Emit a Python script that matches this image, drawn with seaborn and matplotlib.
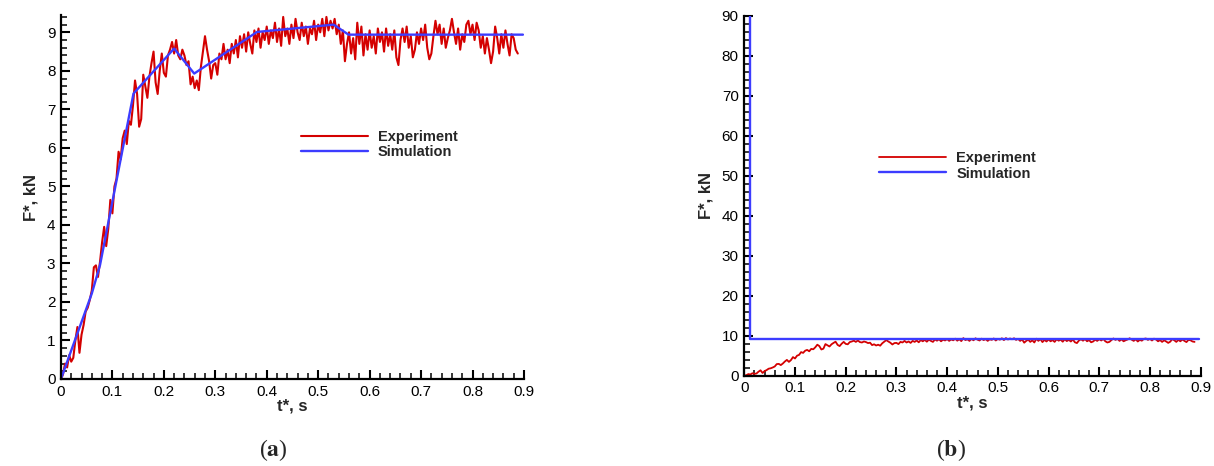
import numpy as np
import matplotlib
matplotlib.use("Agg")
import matplotlib.pyplot as plt
import seaborn as sns
from matplotlib.ticker import MultipleLocator

exp_t = np.round(np.arange(0, 0.889, 0.004), 3)
exp_f = [
    0.00, 0.12, 0.40, 0.30, 0.62, 0.45, 0.55, 1.00, 1.35, 0.68,
    1.15, 1.40, 1.75, 1.85, 2.05, 2.30, 2.90, 2.95, 2.65, 3.05,
    3.55, 3.95, 3.45, 3.90, 4.65, 4.30, 5.00, 5.20, 5.90, 5.70,
    6.25, 6.45, 6.10, 6.70, 6.60, 7.10, 7.75, 7.40, 6.55, 6.75,
    7.90, 7.60, 7.30, 7.85, 8.20, 8.50, 7.70, 7.40, 8.00, 8.45,
    7.95, 7.85, 8.40, 8.55, 8.75, 8.45, 8.80, 8.40, 8.30, 8.55,
    8.40, 8.15, 8.25, 7.65, 7.85, 7.55, 7.75, 7.50, 8.10, 8.50,
    8.90, 8.55, 8.25, 7.80, 8.15, 8.20, 7.90, 8.45, 8.30, 8.70,
    8.30, 8.55, 8.20, 8.70, 8.45, 8.80, 8.35, 8.90, 8.60, 8.95,
    8.50, 9.00, 8.70, 8.45, 9.05, 8.75, 9.10, 8.60, 9.00, 8.80,
    9.15, 8.70, 9.05, 8.85, 9.25, 8.75, 9.10, 8.65, 9.40, 8.90,
    9.10, 8.70, 9.20, 8.85, 9.35, 9.00, 8.80, 9.25, 8.90, 9.15,
    8.70, 9.10, 8.95, 9.30, 8.80, 9.20, 9.00, 9.35, 8.90, 9.40,
    9.05, 9.30, 9.10, 9.35, 8.95, 9.20, 8.70, 9.05, 8.25, 8.70,
    9.00, 8.45, 8.85, 8.30, 9.25, 8.70, 9.15, 8.40, 8.95, 8.55,
    9.05, 8.60, 8.90, 8.45, 9.10, 8.75, 9.00, 8.50, 9.10, 8.65,
    8.95, 8.55, 9.05, 8.35, 8.15, 8.80, 9.10, 8.75, 9.15, 8.60,
    8.90, 8.35, 8.55, 9.00, 8.70, 9.10, 8.80, 9.20, 8.60, 8.30,
    8.45, 8.90, 9.30, 8.95, 9.20, 8.70, 9.10, 8.60, 8.85, 9.05,
    9.35, 9.00, 8.70, 9.10, 8.55, 8.95, 8.75, 9.20, 9.30, 8.95,
    9.20, 8.80, 9.25, 9.05, 8.60, 8.90, 8.45, 8.85, 8.55, 8.20,
    8.50, 9.15, 8.85, 8.45, 8.95, 8.60, 9.05, 8.70, 8.40, 8.95,
    8.85, 8.55, 8.45,
]

# simulation, panel (a)
sim_a_t = [0.0, 0.060, 0.076, 0.141, 0.220, 0.259, 0.381, 0.530, 0.559, 0.898]
sim_a_f = [0.0, 2.22, 2.96, 7.41, 8.58, 7.93, 9.01, 9.20, 8.94, 8.94]

# simulation, panel (b)
sim_b_t = [0.011, 0.011, 0.897]
sim_b_f = [95.0, 9.1, 9.1]

red = "#d40000"
blue = "#3c3cff"

sns.set_style("ticks")
plt.rcParams["font.family"] = ["Liberation Sans", "DejaVu Sans"]
plt.rcParams["mathtext.fontset"] = "stix"

fig = plt.figure(figsize=(12.14, 4.66), dpi=100)
ax1 = fig.add_axes([0.0502, 0.1867, 0.3814, 0.7811])
ax2 = fig.add_axes([0.6131, 0.1938, 0.3759, 0.7725])


def style_axes(ax, ymax, ymajor, yminor):
    ax.set_xlim(0, 0.9)
    ax.set_ylim(0, ymax)
    ax.xaxis.set_major_locator(MultipleLocator(0.1))
    ax.xaxis.set_minor_locator(MultipleLocator(0.02))
    ax.yaxis.set_major_locator(MultipleLocator(ymajor))
    ax.yaxis.set_minor_locator(MultipleLocator(yminor))
    ax.xaxis.set_major_formatter(plt.FuncFormatter(lambda v, p: "0" if abs(v) < 1e-9 else f"{v:g}"))
    for s in ["top", "right"]:
        ax.spines[s].set_visible(False)
    for s in ["left", "bottom"]:
        ax.spines[s].set_linewidth(1.6)
        ax.spines[s].set_color("black")
    ax.tick_params(which="major", direction="in", length=6.5, width=1.5,
                   labelsize=11, colors="black", pad=4)
    ax.tick_params(which="minor", direction="in", length=4, width=1.1,
                   colors="black", left=True, bottom=True)
    ax.set_xlabel("t*, s", fontsize=12, fontweight="bold", labelpad=0)
    ax.set_ylabel("F*, kN", fontsize=12, fontweight="bold", labelpad=6)


sns.lineplot(x=exp_t, y=exp_f, ax=ax1, color=red, linewidth=1.5,
             estimator=None, sort=False, label="Experiment")
sns.lineplot(x=sim_a_t, y=sim_a_f, ax=ax1, color=blue, linewidth=1.7,
             estimator=None, sort=False, label="Simulation")
style_axes(ax1, 9.45, 1, 0.2)
ax1.legend(loc="upper left", bbox_to_anchor=(0.505, 0.7), frameon=False,
           prop={"weight": "bold", "size": 10.5}, handlelength=4.6,
           handletextpad=0.7, labelspacing=0.1, borderaxespad=0)

sns.lineplot(x=exp_t, y=exp_f, ax=ax2, color=red, linewidth=1.3,
             estimator=None, sort=False, label="Experiment")
sns.lineplot(x=sim_b_t, y=sim_b_f, ax=ax2, color=blue, linewidth=1.7,
             estimator=None, sort=False, label="Simulation")
style_axes(ax2, 90, 10, 2)
ax2.legend(loc="upper left", bbox_to_anchor=(0.282, 0.64), frameon=False,
           prop={"weight": "bold", "size": 10.5}, handlelength=4.6,
           handletextpad=0.7, labelspacing=0.1, borderaxespad=0)

fig.text(0.225, 0.035, r"($\mathbf{a}$)", ha="center", va="center",
         fontsize=17, family="Liberation Serif")
fig.text(0.783, 0.035, r"($\mathbf{b}$)", ha="center", va="center",
         fontsize=17, family="Liberation Serif")

fig.savefig("out.png", dpi=100)
